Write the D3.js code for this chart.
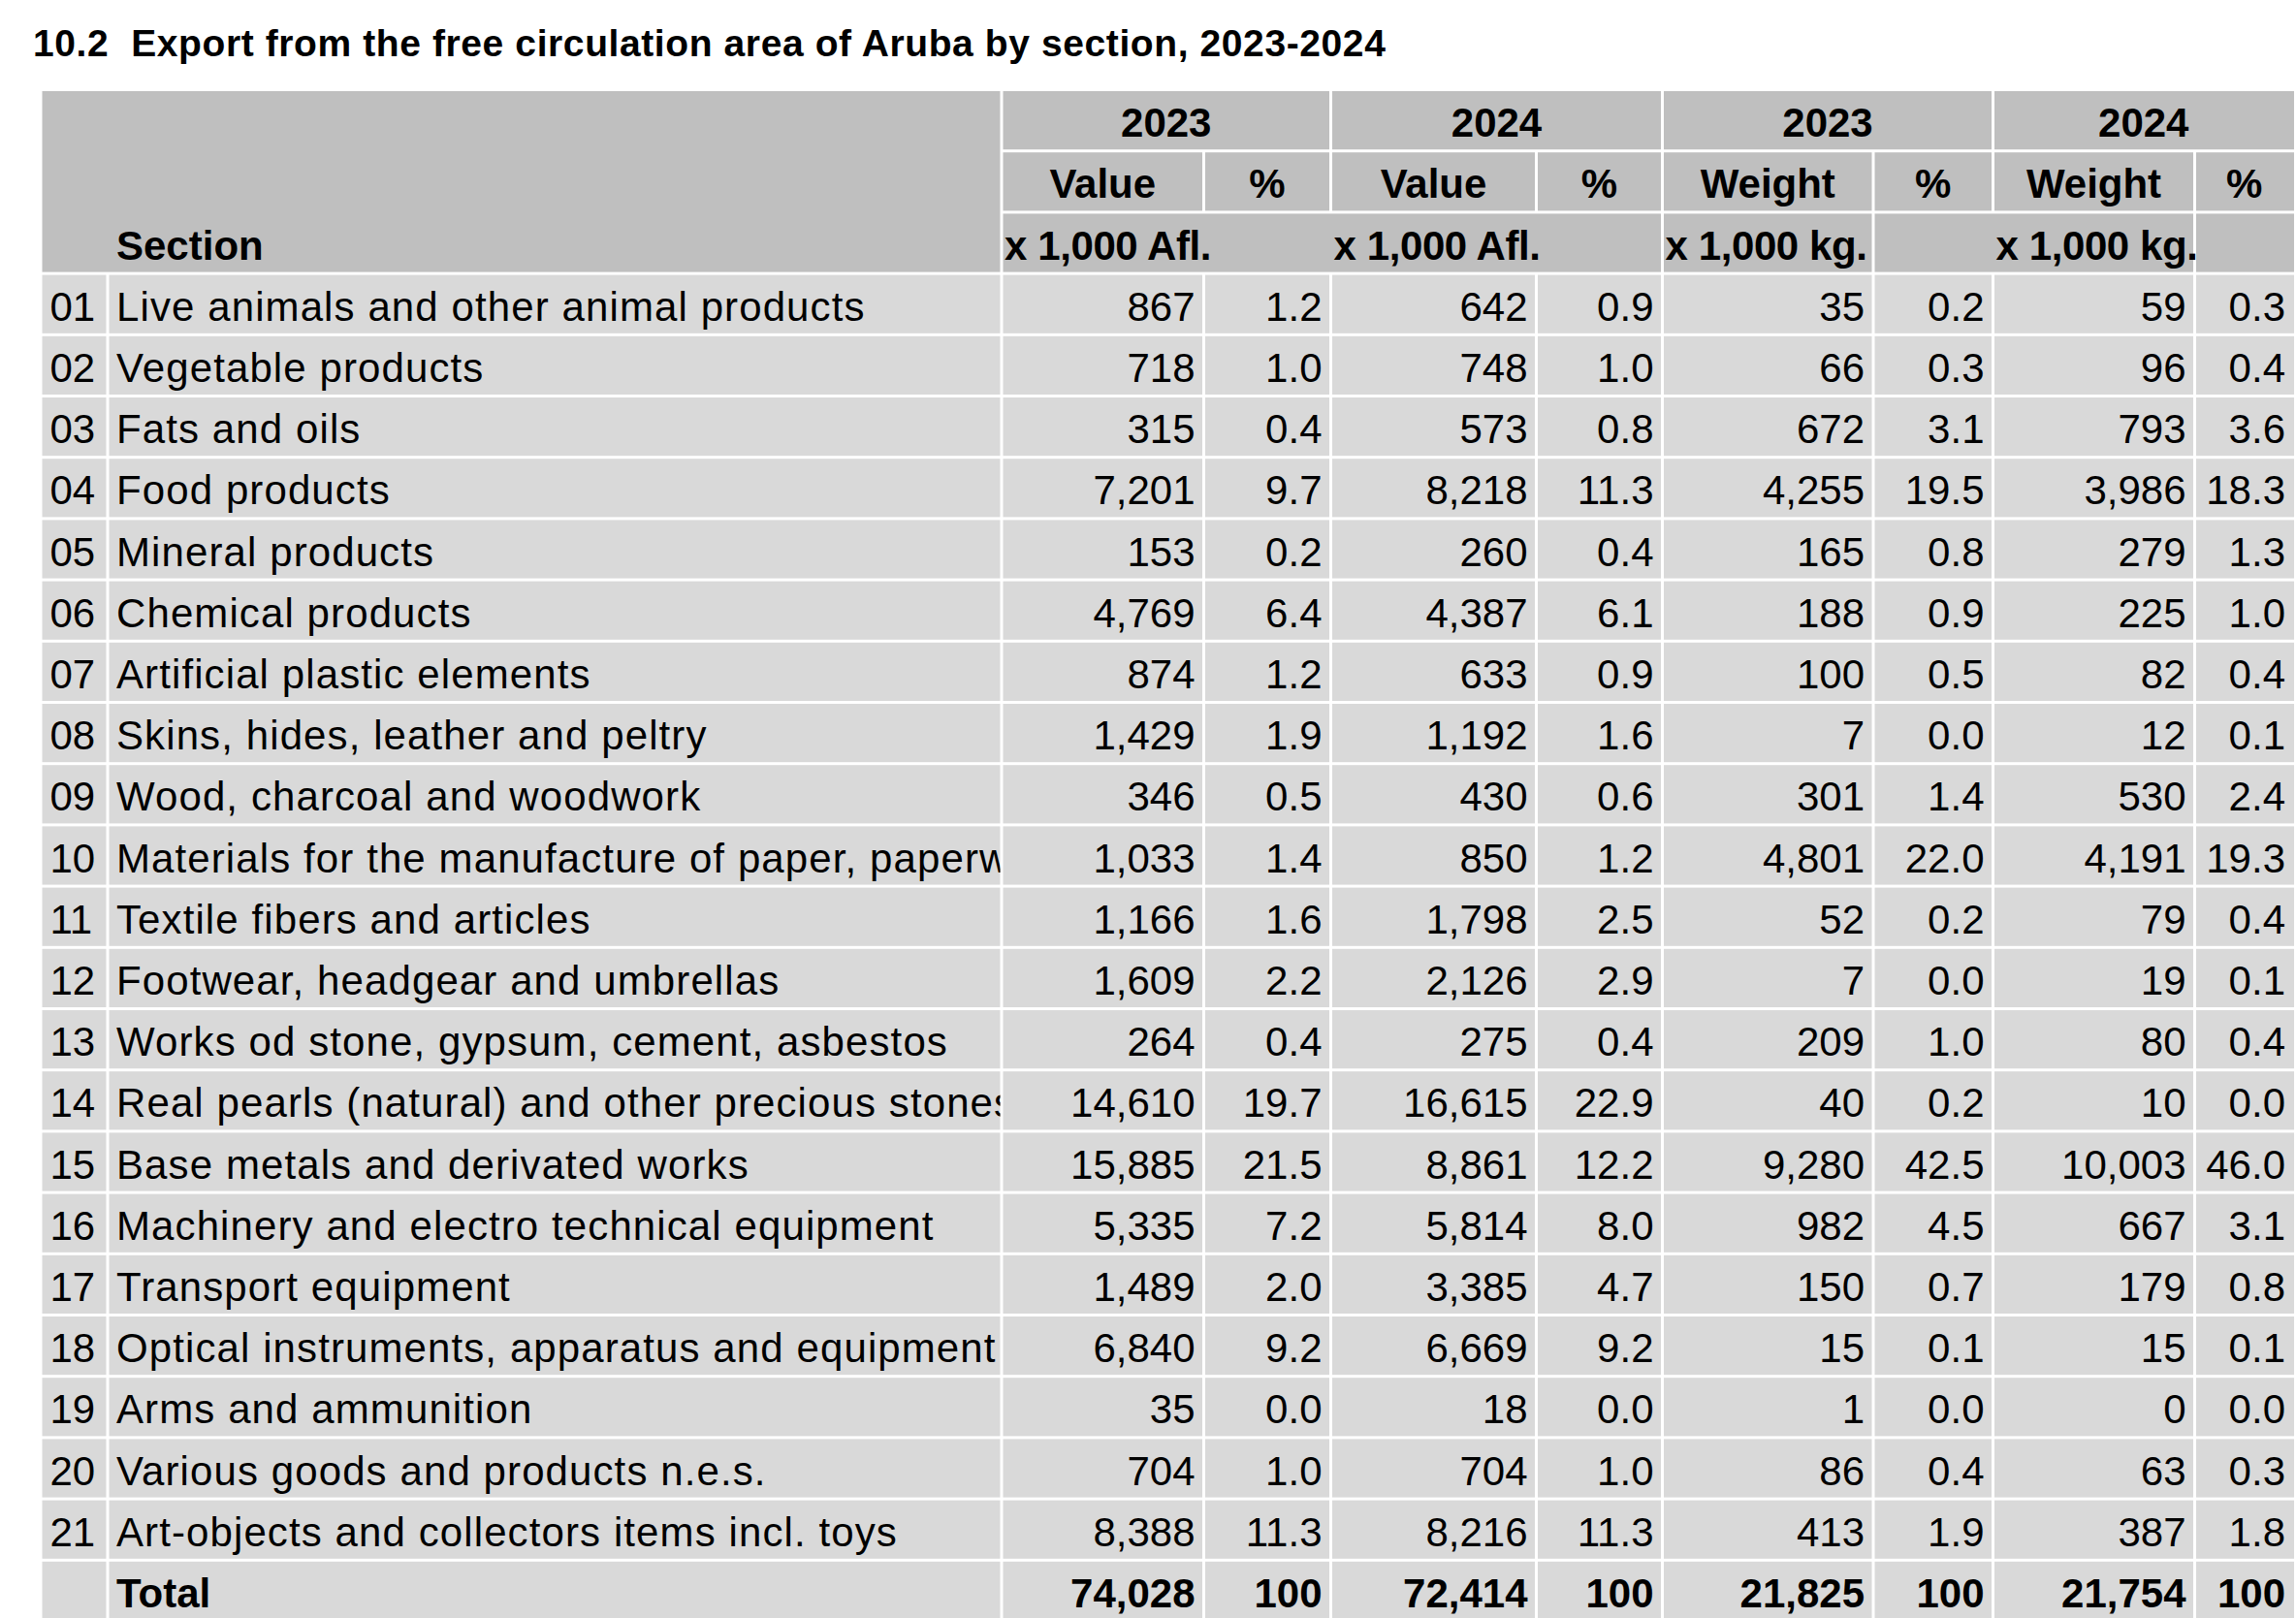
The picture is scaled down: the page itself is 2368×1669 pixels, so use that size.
<!DOCTYPE html>
<html lang="en">
<head>
<meta charset="UTF-8">
<script src="https://d3js.org/d3.v7.min.js"></script>
<title>Export by section</title>
<style>
    body { margin: 0; background: white; }
    svg text { font-family: "Liberation Sans", Arial, sans-serif; fill: black; white-space: pre; }
</style>
</head>
<body>
<svg id="chart"></svg>
<script>
const codes = ["01","02","03","04","05","06","07","08","09","10","11","12","13","14","15","16","17","18","19","20","21"];
const sections = [
    "Live animals and other animal products",
    "Vegetable products",
    "Fats and oils",
    "Food products",
    "Mineral products",
    "Chemical products",
    "Artificial plastic elements",
    "Skins, hides, leather and peltry",
    "Wood, charcoal and woodwork",
    "Materials for the manufacture of paper, paperware",
    "Textile fibers and articles",
    "Footwear, headgear and umbrellas",
    "Works od stone, gypsum, cement, asbestos",
    "Real pearls (natural) and other precious stones",
    "Base metals and derivated works",
    "Machinery and electro technical equipment",
    "Transport equipment",
    "Optical instruments, apparatus and equipment",
    "Arms and ammunition",
    "Various goods and products n.e.s.",
    "Art-objects and collectors items incl. toys"
];
const value2023 = [867,718,315,7201,153,4769,874,1429,346,1033,1166,1609,264,14610,15885,5335,1489,6840,35,704,8388];
const valuePct2023 = [1.2,1.0,0.4,9.7,0.2,6.4,1.2,1.9,0.5,1.4,1.6,2.2,0.4,19.7,21.5,7.2,2.0,9.2,0.0,1.0,11.3];
const value2024 = [642,748,573,8218,260,4387,633,1192,430,850,1798,2126,275,16615,8861,5814,3385,6669,18,704,8216];
const valuePct2024 = [0.9,1.0,0.8,11.3,0.4,6.1,0.9,1.6,0.6,1.2,2.5,2.9,0.4,22.9,12.2,8.0,4.7,9.2,0.0,1.0,11.3];
const weight2023 = [35,66,672,4255,165,188,100,7,301,4801,52,7,209,40,9280,982,150,15,1,86,413];
const weightPct2023 = [0.2,0.3,3.1,19.5,0.8,0.9,0.5,0.0,1.4,22.0,0.2,0.0,1.0,0.2,42.5,4.5,0.7,0.1,0.0,0.4,1.9];
const weight2024 = [59,96,793,3986,279,225,82,12,530,4191,79,19,80,10,10003,667,179,15,0,63,387];
const weightPct2024 = [0.3,0.4,3.6,18.3,1.3,1.0,0.4,0.1,2.4,19.3,0.4,0.1,0.4,0.0,46.0,3.1,0.8,0.1,0.0,0.3,1.8];
const totals = [74028, 100, 72414, 100, 21825, 100, 21754, 100];

const years = ["2023","2024","2023","2024"];
const measures = ["Value","%","Value","%","Weight","%","Weight","%"];
const units = ["x 1,000 Afl.","x 1,000 Afl.","x 1,000 kg.","x 1,000 kg."];

const W = 2368, H = 1669;
const edges = [43.5, 111, 1033, 1241.5, 1372.5, 1584.5, 1714.5, 1932, 2055.5, 2263.5, 2366];
const gap = 3;
const fontSize = 42;
const headFill = "#bfbfbf", bodyFill = "#d9d9d9";

const svg = d3.select("#chart").attr("width", W).attr("height", H);

const y = d3.scaleBand()
    .domain(d3.range(25))
    .range([94, 94 + 25 * 63.08])
    .paddingInner(gap / 63.08);

const fmtInt = d3.format(",");
const fmtPct = d3.format(".1f");

function cellRect(x0, x1, r0, r1, fill) {
    const left = x0 + (x0 === edges[0] ? 0 : gap / 2);
    const right = x1 - (x1 === edges[edges.length - 1] ? 0 : gap / 2);
    svg.append("rect")
        .attr("x", left)
        .attr("y", y(r0))
        .attr("width", right - left)
        .attr("height", y(r1) + y.bandwidth() - y(r0))
        .attr("fill", fill);
}
function baseline(r) { return y(r) + y.bandwidth() - 13; }

svg.append("text")
    .attr("x", 34)
    .attr("y", 58)
    .style("font-size", "39px")
    .style("font-weight", "bold")
    .style("letter-spacing", "0.6px")
    .text("10.2  Export from the free circulation area of Aruba by section, 2023-2024");

// header
cellRect(edges[0], edges[2], 0, 2, headFill);
svg.append("text")
    .attr("x", edges[1] + 9).attr("y", baseline(2))
    .style("font-size", fontSize + "px").style("font-weight", "bold")
    .text("Section");

years.forEach((yr, g) => {
    const x0 = edges[2 + g * 2], x1 = edges[4 + g * 2];
    cellRect(x0, x1, 0, 0, headFill);
    svg.append("text")
        .attr("x", (x0 + x1) / 2).attr("y", baseline(0))
        .attr("text-anchor", "middle")
        .style("font-size", fontSize + "px").style("font-weight", "bold")
        .text(yr);
});

measures.forEach((m, c) => {
    const x0 = edges[2 + c], x1 = edges[3 + c];
    cellRect(x0, x1, 1, 1, headFill);
    svg.append("text")
        .attr("x", (x0 + x1) / 2).attr("y", baseline(1))
        .attr("text-anchor", "middle")
        .style("font-size", fontSize + "px").style("font-weight", "bold")
        .text(m);
});

// third header row: cells merged where the unit text runs over
[[2, 6], [6, 7], [7, 9], [9, 10]].forEach(([a, b]) => cellRect(edges[a], edges[b], 2, 2, headFill));
units.forEach((u, g) => {
    svg.append("text")
        .attr("x", edges[2 + g * 2] + 3).attr("y", baseline(2))
        .style("font-size", fontSize + "px").style("font-weight", "bold")
        .style("letter-spacing", "-0.4px")
        .text(u);
});

// body
svg.append("clipPath").attr("id", "secClip")
    .append("rect")
    .attr("x", edges[1]).attr("y", 0)
    .attr("width", edges[2] - gap / 2 - edges[1]).attr("height", H);

const cols = [value2023, valuePct2023, value2024, valuePct2024, weight2023, weightPct2023, weight2024, weightPct2024];

codes.forEach((code, i) => {
    const r = i + 3;
    for (let c = 0; c < edges.length - 1; c++) cellRect(edges[c], edges[c + 1], r, r, bodyFill);
    svg.append("text")
        .attr("x", edges[0] + 8).attr("y", baseline(r))
        .style("font-size", fontSize + "px")
        .text(code);
    svg.append("text")
        .attr("x", edges[1] + 9).attr("y", baseline(r))
        .attr("clip-path", "url(#secClip)")
        .style("font-size", fontSize + "px")
        .style("letter-spacing", "1.1px")
        .text(sections[i]);
    cols.forEach((col, c) => {
        svg.append("text")
            .attr("x", edges[3 + c] - 9).attr("y", baseline(r))
            .attr("text-anchor", "end")
            .style("font-size", fontSize + "px")
            .text(c % 2 === 0 ? fmtInt(col[i]) : fmtPct(col[i]));
    });
});

// total
const rt = codes.length + 3;
for (let c = 0; c < edges.length - 1; c++) cellRect(edges[c], edges[c + 1], rt, rt, bodyFill);
svg.append("text")
    .attr("x", edges[1] + 9).attr("y", baseline(rt))
    .style("font-size", fontSize + "px").style("font-weight", "bold")
    .text("Total");
totals.forEach((t, c) => {
    svg.append("text")
        .attr("x", edges[3 + c] - 9).attr("y", baseline(rt))
        .attr("text-anchor", "end")
        .style("font-size", fontSize + "px").style("font-weight", "bold")
        .text(fmtInt(t));
});
</script>
</body>
</html>
